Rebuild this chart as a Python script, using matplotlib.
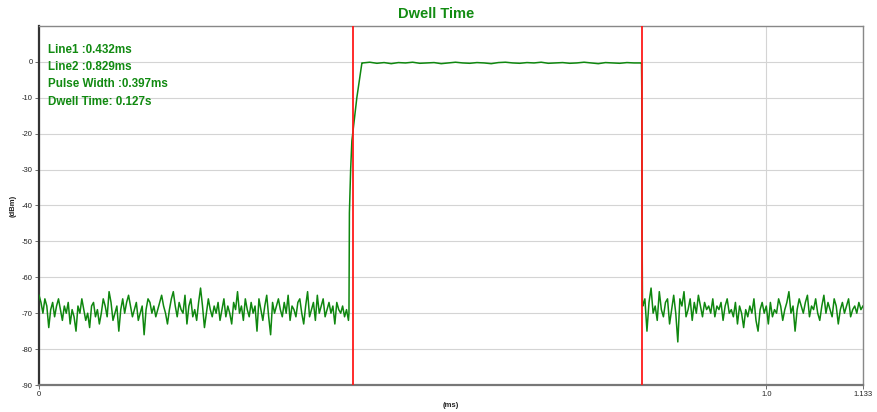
import numpy as np
import matplotlib
matplotlib.use("Agg")
import matplotlib.pyplot as plt

plt.rcParams['font.family'] = ['Liberation Sans', 'DejaVu Sans']

title = "Dwell Time"
line1 = 0.432
line2 = 0.829
x_max = 1.133
info_lines = ["Line1 :0.432ms", "Line2 :0.829ms", "Pulse Width :0.397ms", "Dwell Time: 0.127s"]
y_ticks = [0, -10, -20, -30, -40, -50, -60, -70, -80, -90]
x_ticks = [0, 1.0, 1.133]
x_tick_labels = ["0", "1.0", "1.133"]

# noise floor before the pulse (0 .. 0.426 ms)
noise_left = [
    -65, -67, -70, -66, -68, -74, -69, -67, -71, -68,
    -66, -69, -72, -68, -70, -67, -73, -69, -71, -75,
    -68, -70, -66, -69, -72, -70, -74, -68, -67, -71,
    -69, -73, -70, -66, -68, -71, -64, -67, -72, -70,
    -68, -75, -69, -66, -70, -67, -65, -68, -71, -69,
    -67, -72, -70, -68, -76, -69, -66, -67, -70, -68,
    -71, -69, -67, -65, -68, -70, -73, -69, -66, -64,
    -68, -71, -67, -69, -70, -65, -73, -68, -66, -71,
    -69, -72, -67, -63, -68, -74, -70, -66, -69, -71,
    -68, -70, -67, -72, -69, -66, -71, -68, -70, -73,
    -67, -69, -64, -70, -68, -72, -66, -69, -71, -67,
    -70, -68, -75, -66, -69, -72, -68, -65, -71, -76,
    -67, -70, -68, -66, -69, -71, -67, -70, -65, -72,
    -68, -69, -71, -67, -66, -70, -73, -68, -64, -71,
    -69, -67, -72, -65, -70, -68, -66, -71, -69, -67,
    -70, -68, -73, -67, -69, -70, -68, -71, -69, -72,
]
# rising edge
rise_x = [0.4262, 0.4268, 0.4285, 0.4302, 0.4370, 0.4440]
rise_y = [-70, -42, -30, -22, -10, -0.3]
# pulse top (0.445 .. 0.828 ms)
top = [
    -0.3, -0.1, -0.4, -0.2, -0.5, -0.2, -0.3, -0.1, -0.4, -0.3,
    -0.2, -0.5, -0.3, -0.1, -0.3, -0.4, -0.2, -0.3, -0.5, -0.2,
    -0.1, -0.3, -0.4, -0.2, -0.3, -0.1, -0.4, -0.3, -0.2, -0.4,
    -0.3, -0.1, -0.3, -0.5, -0.2, -0.3, -0.4, -0.2, -0.3, -0.3,
]
# falling edge
fall_x = [0.8285, 0.8288, 0.8290, 0.8293, 0.8298]
fall_y = [-0.4, -7, -30, -47, -68]
# noise floor after the pulse (0.830 .. 1.133 ms)
noise_right = [
    -68, -66, -75, -67, -63, -70, -68, -72, -64, -69,
    -71, -67, -66, -73, -69, -65, -70, -78, -66, -68,
    -64, -71, -69, -66, -72, -67, -70, -65, -68, -71,
    -67, -69, -68, -70, -66, -71, -68, -69, -67, -72,
    -68, -66, -70, -69, -71, -67, -73, -68, -70, -74,
    -69, -71, -68, -70, -66, -72, -75, -69, -67, -70,
    -68, -73, -67, -71, -69, -70, -66, -68, -72, -69,
    -67, -64, -70, -68, -75, -69, -66, -68, -70, -67,
    -65, -71, -68, -69, -66, -70, -72, -68, -65, -70,
    -67, -69, -71, -66, -68, -73, -69, -67, -70, -68,
    -66, -71, -69, -68, -70, -67, -69, -68,
]

x = np.concatenate([
    np.linspace(0.0, 0.4255, len(noise_left)),
    rise_x,
    np.linspace(0.4450, 0.8280, len(top)),
    fall_x,
    np.linspace(0.8303, x_max, len(noise_right)),
])
y = np.concatenate([noise_left, rise_y, top, fall_y, noise_right])

fig = plt.figure(figsize=(8.77, 4.12), dpi=100)
ax = fig.add_axes([0.0445, 0.0655, 0.9395, 0.8715])

ax.set_xlim(0, x_max)
ax.set_ylim(-90, 10)

ax.set_yticks(y_ticks)
ax.set_yticklabels([str(v) for v in y_ticks])
ax.set_xticks(x_ticks)
ax.set_xticklabels(x_tick_labels)
ax.tick_params(axis='both', labelsize=5.5, length=3, width=0.6, color='#555555', pad=1.5, labelcolor='#222222')

ax.grid(True, color='#d4d4d4', linewidth=0.8)
ax.set_axisbelow(True)

ax.plot(x, y, color='#0f870f', linewidth=1.1, zorder=3)
ax.axvline(line1, color='#ff1a1a', linewidth=1.3, zorder=4)
ax.axvline(line2, color='#ff1a1a', linewidth=1.3, zorder=4)

ax.spines['left'].set_color('#333333')
ax.spines['left'].set_linewidth(1.6)
ax.spines['bottom'].set_color('#777777')
ax.spines['bottom'].set_linewidth(1.6)
for s in ['top', 'right']:
    ax.spines[s].set_color('#888888')
    ax.spines[s].set_linewidth(1.0)

ys = [0.933, 0.885, 0.837, 0.789]
for t, yy in zip(info_lines, ys):
    ax.text(0.011, yy, t, transform=ax.transAxes, color='#118a11', fontsize=8.4,
            fontweight='bold', va='center', ha='left')

fig.text(0.497, 0.965, title, color='#128c12', fontsize=10.5, fontweight='bold', ha='center', va='center')
ax.set_xlabel("(ms)", fontsize=5.5, fontweight='bold', labelpad=3, color='#222222')
ax.set_ylabel("(dBm)", fontsize=5.5, fontweight='bold', labelpad=4, color='#222222')

fig.savefig("out.png", dpi=100, facecolor='white')
